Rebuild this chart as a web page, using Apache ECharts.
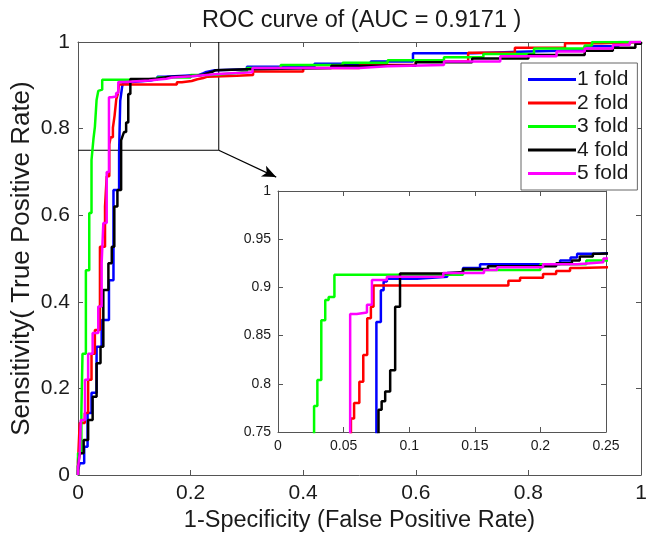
<!DOCTYPE html>
<html>
<head>
<meta charset="utf-8">
<script src="https://cdn.jsdelivr.net/npm/echarts@6/dist/echarts.min.js"></script>
<style>
  html, body { margin: 0; padding: 0; background: #fff; }
  #chart { width: 646px; height: 537px; }
</style>
</head>
<body>
<div id="chart"></div>
<script>
// ROC points per cross-validation fold (stair corners: each point ends a vertical rise)
const fpr1 = [0, 0, 0.003, 0.011, 0.017, 0.024, 0.033, 0.042, 0.055, 0.063, 0.073, 0.075, 0.0784, 0.0805, 0.083, 0.106, 0.129, 0.141, 0.154, 0.215, 0.223, 0.228, 0.243, 0.30, 0.42, 0.52, 0.595, 0.70, 0.80, 0.90, 0.96, 1];
const tpr1 = [0, 0.01, 0.027, 0.065, 0.143, 0.19, 0.296, 0.358, 0.45, 0.658, 0.745, 0.864, 0.897, 0.906, 0.909, 0.911, 0.915, 0.92, 0.924, 0.928, 0.931, 0.935, 0.937, 0.943, 0.95, 0.955, 0.974, 0.978, 0.981, 0.99, 1, 1];

const fpr2 = [0, 0, 0.003, 0.012, 0.018, 0.024, 0.030, 0.039, 0.048, 0.051, 0.0556, 0.058, 0.062, 0.065, 0.068, 0.0708, 0.0728, 0.1756, 0.1845, 0.202, 0.212, 0.2226, 0.23, 0.282, 0.311, 0.40, 0.50, 0.60, 0.693, 0.776, 0.865, 0.93, 1];
const tpr2 = [0, 0.03, 0.12, 0.143, 0.22, 0.28, 0.335, 0.527, 0.62, 0.69, 0.764, 0.78, 0.802, 0.83, 0.868, 0.88, 0.902, 0.907, 0.91, 0.914, 0.917, 0.92, 0.922, 0.924, 0.932, 0.94, 0.947, 0.955, 0.975, 0.987, 0.997, 1, 1];

const fpr3 = [0, 0, 0.006, 0.008, 0.014, 0.02, 0.024, 0.0275, 0.030, 0.033, 0.036, 0.0386, 0.043, 0.141, 0.20, 0.235, 0.28, 0.30, 0.36, 0.47, 0.55, 0.65, 0.72, 0.81, 0.90, 0.913, 1];
const tpr3 = [0, 0.05, 0.143, 0.28, 0.473, 0.605, 0.727, 0.777, 0.804, 0.866, 0.887, 0.89, 0.913, 0.918, 0.924, 0.928, 0.932, 0.94, 0.947, 0.952, 0.958, 0.965, 0.972, 0.985, 0.992, 1, 1];

const fpr4 = [0, 0, 0.003, 0.010, 0.018, 0.026, 0.033, 0.040, 0.045, 0.054, 0.060, 0.0645, 0.070, 0.0766, 0.079, 0.0817, 0.0855, 0.0893, 0.093, 0.126, 0.141, 0.16, 0.212, 0.224, 0.23, 0.24, 0.245, 0.30, 0.45, 0.60, 0.70, 0.80, 0.90, 0.95, 0.99, 1];
const tpr4 = [0, 0.02, 0.05, 0.081, 0.127, 0.181, 0.258, 0.296, 0.427, 0.489, 0.527, 0.62, 0.658, 0.773, 0.782, 0.792, 0.814, 0.88, 0.9145, 0.916, 0.919, 0.922, 0.925, 0.928, 0.932, 0.935, 0.937, 0.94, 0.945, 0.953, 0.962, 0.97, 0.98, 0.987, 0.996, 1];

const fpr5 = [0, 0, 0.003, 0.005, 0.0124, 0.018, 0.026, 0.036, 0.042, 0.045, 0.051, 0.055, 0.060, 0.0678, 0.0716, 0.083, 0.126, 0.157, 0.167, 0.202, 0.228, 0.248, 0.31, 0.50, 0.55, 0.65, 0.75, 0.85, 0.90, 0.95, 0.98, 1];
const tpr5 = [0, 0.015, 0.05, 0.127, 0.22, 0.28, 0.328, 0.389, 0.489, 0.582, 0.70, 0.8724, 0.874, 0.882, 0.9076, 0.911, 0.915, 0.918, 0.921, 0.924, 0.926, 0.93, 0.94, 0.944, 0.947, 0.955, 0.967, 0.978, 0.985, 0.993, 1, 1];

const foldNames = ['1 fold', '2 fold', '3 fold', '4 fold', '5 fold'];
const foldColors = ['#0000ff', '#ff0000', '#00ff00', '#000000', '#ff00ff'];
const foldFpr = [fpr1, fpr2, fpr3, fpr4, fpr5];
const foldTpr = [tpr1, tpr2, tpr3, tpr4, tpr5];

// magnified window and the tick labels
const zoomX = [0, 0.25];
const zoomY = [0.75, 1];
const arrowTip = [0.352, 0.688];
const mainTicks = [0, 0.2, 0.4, 0.6, 0.8, 1];
const zoomXTicks = [0, 0.05, 0.1, 0.15, 0.2, 0.25];
const zoomYTicks = [0.75, 0.8, 0.85, 0.9, 0.95, 1];

const FONT = '"Liberation Sans", Arial, Helvetica, sans-serif';
const AXIS_COLOR = '#555';
const TEXT_COLOR = '#1a1a1a';

function pairs(xs, ys) { return xs.map((x, i) => [x, ys[i]]); }
function fmt(v) { return String(Math.round(v * 1000) / 1000); }

function axis(extra) {
  return Object.assign({
    type: 'value',
    splitLine: { show: false },
    axisLine: { show: true, onZero: false, lineStyle: { color: AXIS_COLOR, width: 1 } },
    axisTick: { show: true, inside: true, length: 5, lineStyle: { color: AXIS_COLOR } },
    axisLabel: { show: false }
  }, extra);
}

const labelMain = { show: true, fontFamily: FONT, fontSize: 21, color: TEXT_COLOR, margin: 8, formatter: fmt };
const labelZoom = { show: true, fontFamily: FONT, fontSize: 14, color: TEXT_COLOR, margin: 7, formatter: fmt };

const series = [];
foldNames.forEach((name, i) => {
  const data = pairs(foldFpr[i], foldTpr[i]);
  series.push({
    name, type: 'line', step: 'end', xAxisIndex: 0, yAxisIndex: 0,
    data, showSymbol: false, symbol: 'none', z: 3 + i,
    lineStyle: { color: foldColors[i], width: 2.5 }, itemStyle: { color: foldColors[i] }
  });
  series.push({
    name, type: 'line', step: 'end', xAxisIndex: 2, yAxisIndex: 2,
    data, showSymbol: false, symbol: 'none', clip: true, z: 3 + i,
    lineStyle: { color: foldColors[i], width: 2.5 }, itemStyle: { color: foldColors[i] }
  });
});

// outline of the magnified window plus the pointer arrow
series.push({
  type: 'line', xAxisIndex: 0, yAxisIndex: 0, silent: true, symbol: 'none', z: 2,
  data: [[zoomX[0], zoomY[0]], [zoomX[1], zoomY[0]], [zoomX[1], zoomY[1]]],
  lineStyle: { color: '#000', width: 1 },
  markLine: {
    silent: true, symbol: ['none', 'arrow'], symbolSize: [9, 14],
    label: { show: false },
    lineStyle: { color: '#000', width: 1.2, type: 'solid' },
    data: [[{ coord: [zoomX[1], zoomY[0]] }, { coord: arrowTip }]]
  }
});

const option = {
  backgroundColor: '#fff',
  animation: false,
  title: {
    text: 'ROC curve of (AUC = 0.9171 )',
    left: 197, top: 4,
    textStyle: { fontFamily: FONT, fontSize: 23.5, fontWeight: 'normal', color: TEXT_COLOR }
  },
  legend: {
    data: foldNames,
    orient: 'vertical',
    left: 521, top: 63,
    icon: 'rect',
    itemWidth: 48, itemHeight: 3, itemGap: 2.5,
    padding: [6, 9, 6, 7],
    borderColor: '#666', borderWidth: 1,
    backgroundColor: '#fff',
    textStyle: { fontFamily: FONT, fontSize: 21, color: TEXT_COLOR, padding: [0, 0, 0, -4] }
  },
  grid: [
    { left: 78, top: 42, width: 563, height: 433, containLabel: false, outerBoundsMode: 'none' },
    { left: 278, top: 191, width: 328, height: 241, containLabel: false, outerBoundsMode: 'none', show: true, backgroundColor: '#fff', borderWidth: 0 }
  ],
  xAxis: [
    axis({ gridIndex: 0, position: 'bottom', min: mainTicks[0], max: mainTicks[5], interval: 0.2,
      axisLabel: labelMain,
      name: '1-Specificity (False Positive Rate)', nameLocation: 'middle', nameGap: 34, nameMoveOverlap: false,
      nameTextStyle: { fontFamily: FONT, fontSize: 23.5, color: TEXT_COLOR } }),
    axis({ gridIndex: 0, position: 'top', min: mainTicks[0], max: mainTicks[5], interval: 0.2 }),
    axis({ gridIndex: 1, position: 'bottom', min: zoomXTicks[0], max: zoomXTicks[5], interval: 0.05, axisLabel: labelZoom }),
    axis({ gridIndex: 1, position: 'top', min: zoomXTicks[0], max: zoomXTicks[5], interval: 0.05 })
  ],
  yAxis: [
    axis({ gridIndex: 0, position: 'left', min: mainTicks[0], max: mainTicks[5], interval: 0.2,
      axisLabel: labelMain,
      name: 'Sensitivity( True Positive Rate)', nameLocation: 'middle', nameGap: 43, nameRotate: 90, nameMoveOverlap: false,
      nameTextStyle: { fontFamily: FONT, fontSize: 26, color: TEXT_COLOR } }),
    axis({ gridIndex: 0, position: 'right', min: mainTicks[0], max: mainTicks[5], interval: 0.2 }),
    axis({ gridIndex: 1, position: 'left', min: zoomYTicks[0], max: zoomYTicks[5], interval: 0.05, axisLabel: labelZoom }),
    axis({ gridIndex: 1, position: 'right', min: zoomYTicks[0], max: zoomYTicks[5], interval: 0.05 })
  ],
  series
};

const chart = echarts.init(document.getElementById('chart'), null, { renderer: 'canvas' });
chart.setOption(option);
</script>
</body>
</html>
